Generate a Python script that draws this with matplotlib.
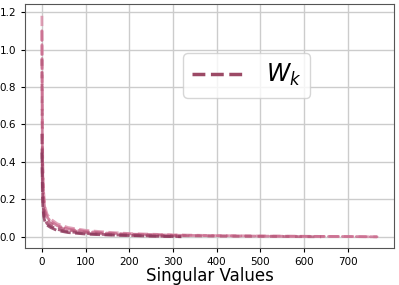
import numpy as np
import matplotlib.pyplot as plt

# singular value spectra at a few indices
idx_a = [0, 1, 2, 4, 7, 12, 20, 35, 60, 100, 150, 200, 300, 400, 500, 600, 700, 767]
sv_a = [1.18, 0.62, 0.40, 0.24, 0.16, 0.12, 0.095, 0.07, 0.05, 0.035, 0.025, 0.018, 0.011, 0.007, 0.005, 0.003, 0.002, 0.0005]
sv_b = [1.10, 0.50, 0.33, 0.21, 0.14, 0.105, 0.083, 0.06, 0.042, 0.029, 0.02, 0.015, 0.009, 0.006, 0.004, 0.003, 0.002, 0.0005]

idx_c = [0, 1, 2, 4, 7, 12, 20, 35, 60, 100, 150, 200, 300, 400, 500, 639]
sv_c = [0.95, 0.42, 0.28, 0.18, 0.12, 0.09, 0.072, 0.052, 0.036, 0.024, 0.016, 0.012, 0.007, 0.004, 0.003, 0.0005]

idx_d = [0, 1, 2, 4, 7, 12, 20, 35, 60, 100, 150, 200, 250, 319]
sv_d = [0.55, 0.30, 0.20, 0.13, 0.09, 0.07, 0.058, 0.04, 0.028, 0.018, 0.012, 0.008, 0.005, 0.001]
sv_e = [0.45, 0.25, 0.17, 0.11, 0.08, 0.062, 0.05, 0.034, 0.023, 0.015, 0.01, 0.007, 0.004, 0.001]

fig = plt.figure(figsize=(3.99, 2.85), dpi=100)
ax = fig.add_axes([0.063, 0.130, 0.924, 0.856])

ax.plot(idx_a, sv_a, '--', color='#d98aa6', lw=2.0, alpha=0.8)
ax.plot(idx_a, sv_b, '--', color='#c9698c', lw=2.0, alpha=0.8, dashes=(3.5, 1.5), dash_capstyle='round')
ax.plot(idx_c, sv_c, '--', color='#b85a7c', lw=2.0, alpha=0.8, dashes=(2.5, 2.0))
ax.plot(idx_d, sv_d, '--', color='#9e4468', lw=2.0, alpha=0.85)
ax.plot(idx_d, sv_e, '--', color='#8e3b5e', lw=2.0, alpha=0.85)
# legend handle
ax.plot([], [], '--', color='#9c4a66', lw=2.5, label='$W_k$')

ax.set_xticks([0, 100, 200, 300, 400, 500, 600, 700])
ax.set_yticks([0.0, 0.2, 0.4, 0.6, 0.8, 1.0, 1.2])
ax.set_ylim(-0.059, 1.243)
ax.grid(True, color='#cccccc', lw=1)
ax.set_axisbelow(True)
ax.tick_params(labelsize=7.5, length=3)
ax.set_xlabel('Singular Values', fontsize=12, labelpad=0)
for s in ax.spines.values():
    s.set_color('#555555')
ax.legend(fontsize=17, loc='upper left', bbox_to_anchor=(0.428, 0.80),
          borderaxespad=0, handlelength=2.2, borderpad=0.4, handletextpad=0.9)

plt.savefig('out.png', dpi=100)
